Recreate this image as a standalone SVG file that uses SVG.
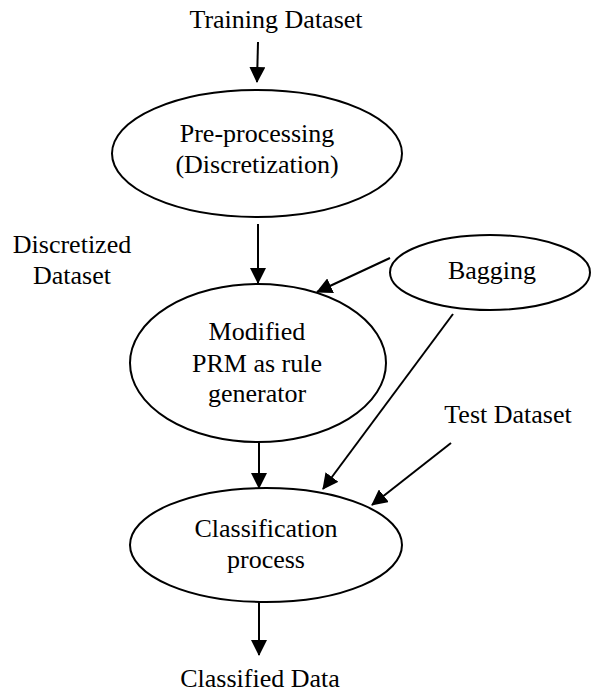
<svg xmlns="http://www.w3.org/2000/svg" width="592" height="692" viewBox="0 0 592 692">
  <style>
    .node { fill: #ffffff; stroke: #000000; stroke-width: 2; }
    text { font-family: 'Liberation Serif', 'DejaVu Serif', serif; font-size: 26px; fill: #000000; text-anchor: middle; }
    .edge { stroke: #000000; stroke-width: 2; fill: none; marker-end: url(#arrow); }
  </style>
  <defs>
    <marker id="arrow" markerUnits="userSpaceOnUse" markerWidth="16" markerHeight="16" refX="15" refY="8" orient="auto">
      <path d="M0,0 L16,8 L0,16 z" fill="#000000"/>
    </marker>
  </defs>
  <rect width="592" height="692" fill="#ffffff"/>

  <g font-family="Liberation Serif, serif" font-size="26">
    <!-- free-standing labels -->
    <g id="training-dataset">
      <text x="276" y="28">Training Dataset</text>
    </g>
    <g id="discretized-dataset">
      <text x="72" y="253">Discretized</text>
      <text x="72" y="284">Dataset</text>
    </g>
    <g id="test-dataset">
      <text x="508" y="423">Test Dataset</text>
    </g>
    <g id="classified-data">
      <text x="260" y="687">Classified Data</text>
    </g>

    <!-- process nodes -->
    <g id="preprocessing">
      <ellipse class="node" cx="257" cy="153.5" rx="145" ry="63.5"/>
      <text x="257" y="142">Pre-processing</text>
      <text x="257" y="173">(Discretization)</text>
    </g>
    <g id="bagging">
      <ellipse class="node" cx="490" cy="272.5" rx="100" ry="37.5"/>
      <text x="492" y="279">Bagging</text>
    </g>
    <g id="modified-prm">
      <ellipse class="node" cx="258" cy="363" rx="128" ry="79"/>
      <text x="257" y="340">Modified</text>
      <text x="257" y="372">PRM as rule</text>
      <text x="257" y="402">generator</text>
    </g>
    <g id="classification">
      <ellipse class="node" cx="266" cy="545" rx="136" ry="57"/>
      <text x="266" y="537">Classification</text>
      <text x="266" y="568">process</text>
    </g>
  </g>

  <!-- connectors -->
  <g id="connectors">
    <line class="edge" x1="258" y1="42" x2="257" y2="82"/>
    <line class="edge" x1="258" y1="224" x2="258" y2="283"/>
    <line class="edge" x1="390" y1="258" x2="317" y2="292"/>
    <line class="edge" x1="259" y1="442" x2="259" y2="488"/>
    <line class="edge" x1="453" y1="314" x2="323" y2="489"/>
    <line class="edge" x1="451" y1="443" x2="372" y2="505"/>
    <line class="edge" x1="259" y1="602" x2="259" y2="655"/>
  </g>
</svg>
